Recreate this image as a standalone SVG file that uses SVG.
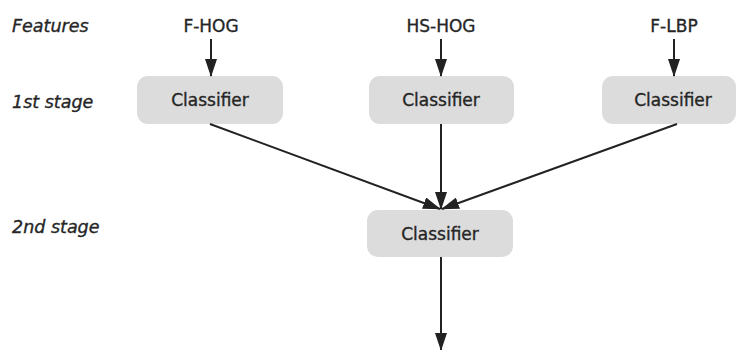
<svg xmlns="http://www.w3.org/2000/svg" width="737" height="350" viewBox="0 0 737 350">
<style>
.lbl{font-family:"DejaVu Sans",Verdana,sans-serif;font-size:17px;fill:#262626;stroke:#262626;stroke-width:0.35;text-anchor:middle}
.stage{font-family:"DejaVu Sans",Verdana,sans-serif;font-size:17.5px;font-style:italic;fill:#262626;stroke:#262626;stroke-width:0.35}
.box{fill:#dcdcdc}
.edge{stroke:#222;stroke-width:2;fill:none;marker-end:url(#ah)}
</style>
<defs>
<marker id="ah" markerWidth="18" markerHeight="12" refX="17" refY="6" orient="auto" markerUnits="userSpaceOnUse" viewBox="0 0 18 12">
<path d="M0,0 L18,6 L0,12 Z" fill="#222"/>
</marker>
</defs>
<rect width="737" height="350" fill="#fff"/>
<g id="stage-labels">
<text class="stage" x="12" y="32">Features</text>
<text class="stage" x="12" y="108">1st stage</text>
<text class="stage" x="12" y="233">2nd stage</text>
</g>
<g id="feat-fhog"><text class="lbl" x="211" y="32">F-HOG</text></g>
<g id="feat-hshog"><text class="lbl" x="441" y="32">HS-HOG</text></g>
<g id="feat-flbp"><text class="lbl" x="674" y="32">F-LBP</text></g>
<g id="clf1"><rect class="box" x="137" y="76" width="146" height="48" rx="11"/><text class="lbl" x="210" y="106">Classifier</text></g>
<g id="clf2"><rect class="box" x="369" y="76" width="145" height="48" rx="11"/><text class="lbl" x="441" y="106">Classifier</text></g>
<g id="clf3"><rect class="box" x="602" y="76" width="134" height="48" rx="11"/><text class="lbl" x="673" y="106">Classifier</text></g>
<g id="clf4"><rect class="box" x="367" y="210" width="146" height="47" rx="11"/><text class="lbl" x="440" y="240">Classifier</text></g>
<g id="connectors">
<path class="edge" d="M211,39 V76"/>
<path class="edge" d="M441,39 V76"/>
<path class="edge" d="M674,39 V76"/>
<path class="edge" d="M210,124 L440,209"/>
<path class="edge" d="M441,124 V209"/>
<path class="edge" d="M677,124 L442,209"/>
<path class="edge" d="M441,257 V350"/>
</g>
</svg>
